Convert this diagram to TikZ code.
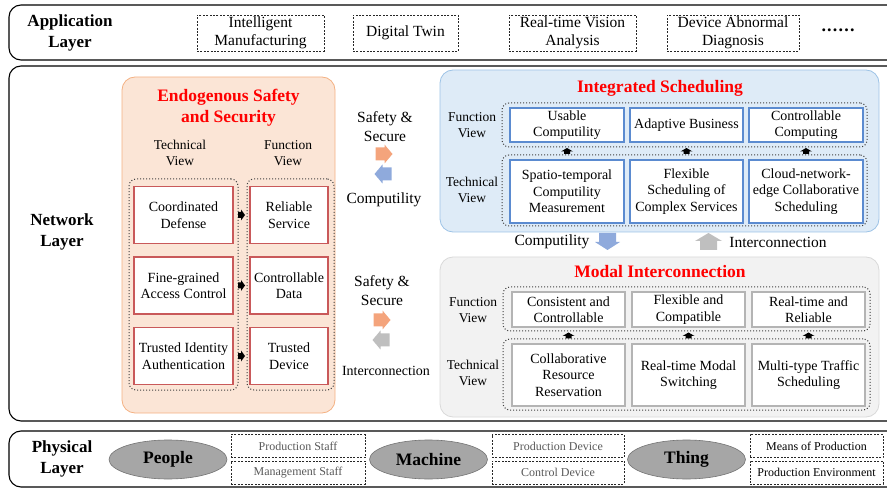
\documentclass[tikz,border=0pt]{standalone}
\usepackage{fontspec}
\setmainfont{Liberation Serif}
\usetikzlibrary{calc,shapes.geometric}

\definecolor{essfill}{HTML}{FBE5D6}
\definecolor{essline}{HTML}{F4B183}
\definecolor{essbox}{HTML}{C9595A}
\definecolor{isfill}{HTML}{DEEBF7}
\definecolor{isline}{HTML}{9DC3E6}
\definecolor{isbox}{HTML}{5B8BD0}
\definecolor{mifill}{HTML}{F2F2F2}
\definecolor{miline}{HTML}{D9D9D9}
\definecolor{mibox}{HTML}{B4B4B4}
\definecolor{arrorange}{HTML}{F4A47C}
\definecolor{arrblue}{HTML}{8FAADC}
\definecolor{arrgray}{HTML}{BFBFBF}
\definecolor{ellfill}{HTML}{A6A6A6}
\definecolor{titlered}{HTML}{FF0000}
\definecolor{softtext}{HTML}{595959}

% block arrow: #1 centre, #2 direction angle, #3 colour,
% #4 length, #5 shaft half width, #6 head half width, #7 head length
\newcommand\blockarr[7]{%
  \fill[#3, shift={(#1)}, rotate=#2]
    ({-#4/2},{-#5}) -- ({#4/2-#7},{-#5}) -- ({#4/2-#7},{-#6}) -- ({#4/2},0)
    -- ({#4/2-#7},{#6}) -- ({#4/2-#7},{#5}) -- ({-#4/2},{#5}) -- cycle;}

\tikzset{
  layerframe/.style={draw=black, line width=1.1pt, rounded corners=12pt},
  layerlabel/.style={font=\fontsize{17}{21}\selectfont\bfseries, align=center},
  appbox/.style={draw=black!85, dashed, dash pattern=on 2pt off 1.4pt, line width=0.8pt,
    align=center, inner sep=0pt, font=\fontsize{15.5}{17.5}\selectfont},
  physbox/.style={draw=black!85, dashed, dash pattern=on 2pt off 1.4pt, line width=0.8pt,
    align=center, inner sep=0pt, minimum height=23pt, font=\fontsize{12}{14}\selectfont},
  panel/.style={rounded corners=13pt, line width=0.8pt, inner sep=0pt},
  paneltitle/.style={font=\fontsize{17.5}{21}\selectfont\bfseries, text=titlered, align=center},
  viewlabel/.style={font=\fontsize{13.5}{16.5}\selectfont, align=center},
  group/.style={draw=black!75, dotted, line width=1pt, rounded corners=7pt, inner sep=0pt},
  cell/.style={fill=white, line width=1.2pt, align=center, inner sep=1pt,
    font=\fontsize{14}{16.5}\selectfont},
  esscell/.style={cell, draw=essbox},
  iscell/.style={cell, draw=isbox},
  micell/.style={cell, draw=mibox},
  linktext/.style={font=\fontsize{15.5}{19}\selectfont, align=center},
  entity/.style={ellipse, fill=ellfill, draw=black!55, line width=0.6pt, minimum width=118pt,
    minimum height=39pt, inner sep=0pt, font=\fontsize{17.5}{21}\selectfont\bfseries}
}

\begin{document}
\begin{tikzpicture}[x=1pt,y=-1pt]
\useasboundingbox (0,0) rectangle (887,489);

% the three layer frames run on past the right margin
\begin{scope}
  \clip (0,0) rectangle (887,489);
  \draw[layerframe] (9,5) rectangle (910,60);
  \draw[layerframe] (9,66) rectangle (910,421);
  \draw[layerframe] (9,431) rectangle (910,487);
\end{scope}

% ---------------- application layer ----------------
\node[layerlabel] (applbl) at (70,33) {Application\\Layer};
\node[appbox, minimum width=127pt, minimum height=36pt] (im) at (260.5,33) {Intelligent\\Manufacturing};
\node[appbox, minimum width=105pt, minimum height=36pt] (dt) at (405.5,33) {Digital Twin};
\node[appbox, minimum width=127pt, minimum height=36pt] (rva) at (572.5,33) {Real-time Vision\\Analysis};
\node[appbox, minimum width=132pt, minimum height=36pt] (dad) at (733,33) {Device Abnormal\\Diagnosis};
\node[font=\fontsize{18}{20}\selectfont\bfseries] (more) at (838,30) {.\kern1.2pt.\kern1.2pt.\kern1.2pt.\kern1.2pt.\kern1.2pt.};

% ---------------- network layer ----------------
\node[layerlabel] (netlbl) at (62,232) {Network\\Layer};

% endogenous safety and security
\node[panel, fill=essfill, draw=essline, minimum width=213pt, minimum height=336pt] (ess) at (228.5,245) {};
\node[paneltitle] (esst) at (228.5,108) {Endogenous Safety\\and Security};
\node[viewlabel] (esstv) at (180,153) {Technical\\View};
\node[viewlabel] (essfv) at (288,153) {Function\\View};
\node[group, minimum width=109pt, minimum height=211pt] (essg1) at (183.5,284.5) {};
\node[group, minimum width=87pt, minimum height=211pt] (essg2) at (290.5,284.5) {};

\node[esscell, minimum width=99pt, minimum height=57pt] (cd) at (183.5,215) {Coordinated\\Defense};
\node[esscell, minimum width=99pt, minimum height=57pt] (fac) at (183.5,285.5) {Fine-grained\\Access Control};
\node[esscell, minimum width=99pt, minimum height=57pt] (tia) at (183.5,356) {Trusted Identity\\Authentication};
\node[esscell, minimum width=78pt, minimum height=57pt] (rs) at (289,215) {Reliable\\Service};
\node[esscell, minimum width=78pt, minimum height=57pt] (cdata) at (289,285.5) {Controllable\\Data};
\node[esscell, minimum width=78pt, minimum height=57pt] (td) at (289,356) {Trusted\\Device};

\coordinate (a1) at ($(cd.east)!0.5!(rs.west)$);
\coordinate (a2) at ($(fac.east)!0.5!(cdata.west)$);
\coordinate (a3) at ($(tia.east)!0.5!(td.west)$);
\blockarr{a1}{0}{black}{7}{3}{5.5}{4}
\blockarr{a2}{0}{black}{7}{3}{5.5}{4}
\blockarr{a3}{0}{black}{7}{3}{5.5}{4}

% links from the safety panel
\node[linktext] (ss1) at (385,127) {Safety \&\\Secure};
\coordinate (ss1r) at (384,154);
\coordinate (ss1l) at (383,174);
\blockarr{ss1r}{0}{arrorange}{17}{6.5}{9.5}{8}
\blockarr{ss1l}{180}{arrblue}{17}{6.5}{9.5}{8}
\node[linktext] (comp1) at (384,200) {Computility};

\node[linktext] (ss2) at (382,291) {Safety \&\\Secure};
\coordinate (ss2r) at (382,320);
\coordinate (ss2l) at (381,340);
\blockarr{ss2r}{0}{arrorange}{17}{6.5}{9.5}{8}
\blockarr{ss2l}{180}{arrgray}{17}{6.5}{9.5}{8}
\node[font=\fontsize{14}{17}\selectfont] (ic1) at (386,371) {Interconnection};

% integrated scheduling
\node[panel, fill=isfill, draw=isline, minimum width=439pt, minimum height=162pt] (is) at (659.5,151) {};
\node[paneltitle] (ist) at (660,88) {Integrated Scheduling};
\node[viewlabel] (isfv) at (472,125) {Function\\View};
\node[viewlabel] (istv) at (472,190) {Technical\\View};
\node[group, minimum width=365pt, minimum height=44pt] (isg1) at (684.5,125) {};
\node[group, minimum width=365pt, minimum height=71pt] (isg2) at (684.5,190.5) {};

\node[iscell, minimum width=114pt, minimum height=34pt] (uc) at (567,125) {Usable\\Computility};
\node[iscell, minimum width=113pt, minimum height=34pt] (ab) at (686.5,125) {Adaptive Business};
\node[iscell, minimum width=114pt, minimum height=34pt] (cc) at (806,125) {Controllable\\Computing};
\node[iscell, minimum width=114pt, minimum height=63pt] (scm) at (567,191.5) {Spatio-temporal\\Computility\\Measurement};
\node[iscell, minimum width=113pt, minimum height=63pt] (fsc) at (686.5,191.5) {Flexible\\Scheduling of\\Complex Services};
\node[iscell, minimum width=114pt, minimum height=63pt] (cne) at (806,191.5) {Cloud-network-\\edge Collaborative\\Scheduling};

\coordinate (b1) at ($(scm.north)!0.5!(uc.south)$);
\coordinate (b2) at ($(fsc.north)!0.5!(ab.south)$);
\coordinate (b3) at ($(cne.north)!0.5!(cc.south)$);
\blockarr{b1}{90}{black}{6}{3}{6}{3.5}
\blockarr{b2}{90}{black}{6}{3}{6}{3.5}
\blockarr{b3}{90}{black}{6}{3}{6}{3.5}

% links between the two right panels
\node[linktext] (comp2) at (552,242) {Computility};
\coordinate (down) at (607.5,241.5);
\coordinate (up) at (708.5,241.5);
\blockarr{down}{270}{arrblue}{17}{8.5}{12.5}{8}
\blockarr{up}{90}{arrgray}{17}{8.5}{13.5}{8}
\node[linktext] (ic2) at (778,242) {Interconnection};

% modal interconnection
\node[panel, fill=mifill, draw=miline, minimum width=439pt, minimum height=160pt] (mi) at (659.5,337) {};
\node[paneltitle] (mit) at (660,272) {Modal Interconnection};
\node[viewlabel] (mifv) at (473,310) {Function\\View};
\node[viewlabel] (mitv) at (473,373) {Technical\\View};
\node[group, minimum width=367pt, minimum height=44pt] (mig1) at (686.5,309) {};
\node[group, minimum width=367pt, minimum height=71pt] (mig2) at (686.5,374.5) {};

\node[micell, minimum width=113pt, minimum height=35pt] (ccon) at (568.5,309.5) {Consistent and\\Controllable};
\node[micell, minimum width=113pt, minimum height=35pt] (fcom) at (688.5,309.5) {Flexible and\\Compatible};
\node[micell, minimum width=113pt, minimum height=35pt] (rrel) at (808.5,309.5) {Real-time and\\Reliable};
\node[micell, minimum width=113pt, minimum height=62pt] (crr) at (568.5,375) {Collaborative\\Resource\\Reservation};
\node[micell, minimum width=113pt, minimum height=62pt] (rms) at (688.5,375) {Real-time Modal\\Switching};
\node[micell, minimum width=113pt, minimum height=62pt] (mts) at (808.5,375) {Multi-type Traffic\\Scheduling};

\coordinate (c1) at ($(crr.north)!0.5!(ccon.south)$);
\coordinate (c2) at ($(rms.north)!0.5!(fcom.south)$);
\coordinate (c3) at ($(mts.north)!0.5!(rrel.south)$);
\blockarr{c1}{90}{black}{6}{3}{6}{3.5}
\blockarr{c2}{90}{black}{6}{3}{6}{3.5}
\blockarr{c3}{90}{black}{6}{3}{6}{3.5}

% ---------------- physical layer ----------------
\node[layerlabel] (phylbl) at (62,459) {Physical\\Layer};

\node[entity] (people) at (168,459.5) {People};
\node[physbox, minimum width=134pt, text=softtext] (pstaff) at (298,446) {Production Staff};
\node[physbox, minimum width=134pt, text=softtext] (mstaff) at (298,472.5) {Management Staff};

\node[entity] (machine) at (428.5,459.5) {Machine};
\node[physbox, minimum width=132pt, text=softtext] (pdev) at (558,446) {Production Device};
\node[physbox, minimum width=132pt, text=softtext] (cdev) at (558,472.5) {Control Device};

\node[entity] (thing) at (686.5,459.5) {Thing};
\node[physbox, minimum width=133pt] (mprod) at (816.5,446) {Means of Production};
\node[physbox, minimum width=133pt] (penv) at (816.5,472.5) {Production Environment};
\end{tikzpicture}
\end{document}
